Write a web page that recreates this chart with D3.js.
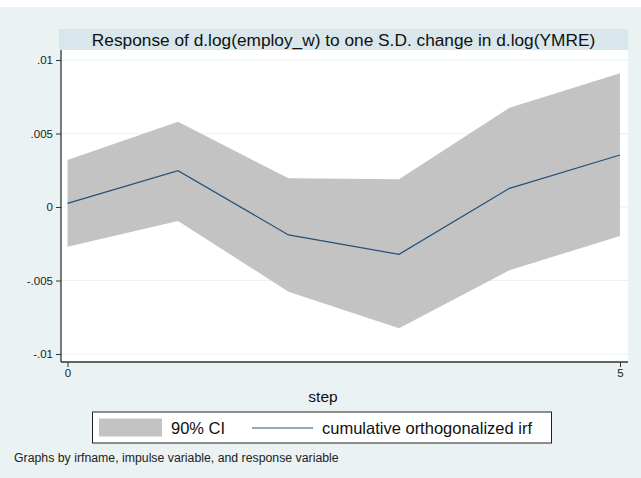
<!DOCTYPE html>
<html>
<head>
<meta charset="utf-8">
<script src="https://cdn.jsdelivr.net/npm/d3@7"></script>
<style>
  body { margin: 0; background: #fff; }
  svg { display: block; font-family: "Liberation Sans", Arial, sans-serif; }
</style>
</head>
<body>
<svg id="chart" width="641" height="478"></svg>
<script>
// data
const steps = [0, 1, 2, 3, 4, 5];
const irf = [0.00025, 0.00247, -0.0019, -0.00322, 0.00127, 0.00354];
const ciUpper = [0.0032, 0.0058, 0.00195, 0.00188, 0.00675, 0.0091];
const ciLower = [-0.0027, -0.00095, -0.00576, -0.00825, -0.0043, -0.00197];
const yTicks = [0.01, 0.005, 0, -0.005, -0.01];
const yTickLabels = [".01", ".005", "0", "-.005", "-.01"];
const xTicks = [0, 5];

const titleText = "Response of d.log(employ_w) to one S.D. change in d.log(YMRE)";
const footText = "Graphs by irfname, impulse variable, and response variable";

const svg = d3.select("#chart");

// plot region box
const plot = {left: 61, right: 628, top: 50, bottom: 362};

// background
svg.append("rect").attr("x", 0).attr("y", 7).attr("width", 641).attr("height", 471)
    .attr("fill", "#eaf2f3");

// title strip
svg.append("rect")
    .attr("x", 59).attr("y", 29).attr("width", plot.right - 59).attr("height", 21)
    .attr("fill", "#d9e6eb");
svg.append("text")
    .attr("x", (59 + plot.right) / 2).attr("y", 45.5)
    .attr("text-anchor", "middle")
    .attr("font-size", "17.3px")
    .attr("fill", "#111")
    .text(titleText);

// white plot region
svg.append("rect")
    .attr("x", plot.left).attr("y", plot.top)
    .attr("width", plot.right - plot.left).attr("height", plot.bottom - plot.top)
    .attr("fill", "#fff");

// scales
const x = d3.scaleLinear().domain([0, 5]).range([67.5, 620]);
const y = d3.scaleLinear().domain([-0.01, 0.01]).range([354, 60]);

// gridlines
svg.append("g").selectAll("line")
    .data(yTicks)
    .join("line")
    .attr("x1", plot.left).attr("x2", plot.right)
    .attr("y1", d => y(d)).attr("y2", d => y(d))
    .attr("stroke", "#eaf2f3")
    .attr("stroke-width", 1);

// CI band
const rows = steps.map((s, i) => ({step: s, irf: irf[i], lo: ciLower[i], hi: ciUpper[i]}));

svg.append("path")
    .datum(rows)
    .attr("fill", "#c3c3c3")
    .attr("d", d3.area()
        .x(d => x(d.step))
        .y0(d => y(d.lo))
        .y1(d => y(d.hi)));

// irf line
svg.append("path")
    .datum(rows)
    .attr("fill", "none")
    .attr("stroke", "#24507a")
    .attr("stroke-width", 1.2)
    .attr("d", d3.line()
        .x(d => x(d.step))
        .y(d => y(d.irf)));

// axes
const yAxis = d3.axisLeft(y)
    .tickValues(yTicks)
    .tickFormat((d, i) => yTickLabels[i])
    .tickSize(5)
    .tickPadding(3);
const gy = svg.append("g")
    .attr("transform", `translate(${plot.left},0)`)
    .call(yAxis);
gy.select(".domain").remove();
gy.selectAll("text").attr("font-size", "11.5px").attr("fill", "#222")
    .attr("font-family", "Liberation Sans, Arial, sans-serif");
gy.selectAll("line").attr("stroke", "#333");

const xAxis = d3.axisBottom(x)
    .tickValues(xTicks)
    .tickFormat(d3.format("d"))
    .tickSize(5)
    .tickPadding(2);
const gx = svg.append("g")
    .attr("transform", `translate(0,${plot.bottom})`)
    .call(xAxis);
gx.select(".domain").remove();
gx.selectAll("text").attr("font-size", "11.5px").attr("fill", "#222")
    .attr("font-family", "Liberation Sans, Arial, sans-serif");
gx.selectAll("line").attr("stroke", "#333");

// axis lines
svg.append("line")
    .attr("x1", plot.left).attr("x2", plot.left)
    .attr("y1", plot.top).attr("y2", plot.bottom)
    .attr("stroke", "#333").attr("stroke-width", 1.3);
svg.append("line")
    .attr("x1", plot.left).attr("x2", plot.right)
    .attr("y1", plot.bottom).attr("y2", plot.bottom)
    .attr("stroke", "#333").attr("stroke-width", 1.3);

// x axis title
svg.append("text")
    .attr("x", 323).attr("y", 402)
    .attr("text-anchor", "middle")
    .attr("font-size", "15.5px")
    .attr("fill", "#111")
    .text("step");

// legend
const legend = svg.append("g");
legend.append("rect")
    .attr("x", 92.5).attr("y", 412).attr("width", 459).attr("height", 31)
    .attr("fill", "#fff").attr("stroke", "#222").attr("stroke-width", 1);
legend.append("rect")
    .attr("x", 99).attr("y", 418.5).attr("width", 63).attr("height", 18)
    .attr("fill", "#c3c3c3");
legend.append("text")
    .attr("x", 171).attr("y", 433.5)
    .attr("font-size", "16.5px").attr("fill", "#111")
    .text("90% CI");
legend.append("line")
    .attr("x1", 252).attr("x2", 313).attr("y1", 428).attr("y2", 428)
    .attr("stroke", "#24507a").attr("stroke-width", 1.2);
legend.append("text")
    .attr("x", 322).attr("y", 433.5)
    .attr("font-size", "16.5px").attr("fill", "#111")
    .text("cumulative orthogonalized irf");

// note
svg.append("text")
    .attr("x", 14).attr("y", 462)
    .attr("font-size", "12.3px").attr("fill", "#222")
    .text(footText);
</script>
</body>
</html>
